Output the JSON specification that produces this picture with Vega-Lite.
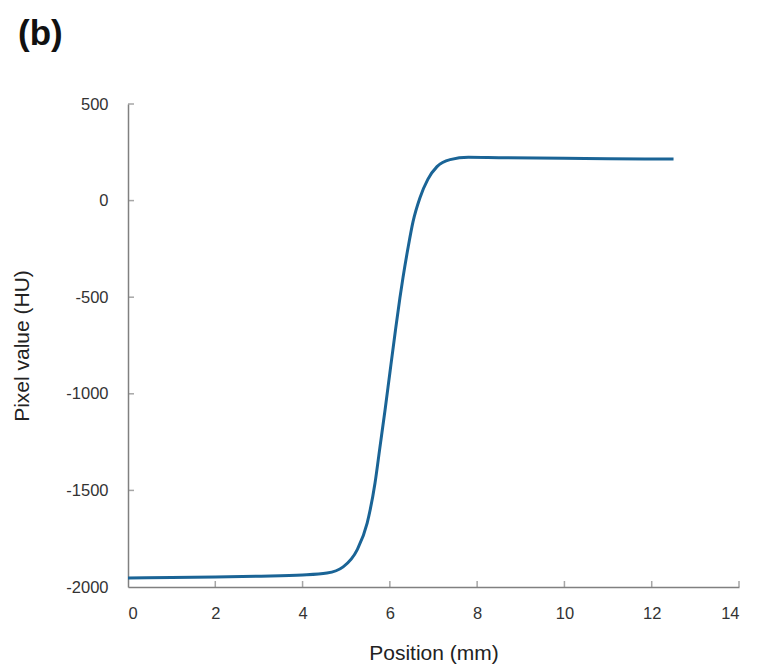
{
  "$schema": "https://vega.github.io/schema/vega-lite/v6.json",
  "width": 611,
  "height": 483,
  "autosize": "none",
  "padding": {"left": 128, "top": 104, "right": 18, "bottom": 80},
  "background": "white",
  "title": {
    "text": "(b)",
    "anchor": "start",
    "frame": "group",
    "font": "Liberation Sans",
    "fontSize": 35,
    "fontWeight": "bold",
    "color": "#111111",
    "dx": -110,
    "offset": 44
  },
  "config": {
    "view": {"stroke": null},
    "font": "Liberation Sans",
    "axis": {
      "grid": false,
      "domainColor": "#808080",
      "domainWidth": 1.5,
      "ticks": false,
      "labelFont": "Liberation Sans",
      "labelFontSize": 16.5,
      "labelColor": "#333333",
      "titleFont": "Liberation Sans",
      "titleFontSize": 21,
      "titleFontWeight": "normal",
      "titleColor": "#222222"
    }
  },
  "datasets": {
    "curve": [
      {"x": 0, "y": -1953},
      {"x": 1, "y": -1951},
      {"x": 2, "y": -1948},
      {"x": 3, "y": -1944},
      {"x": 4, "y": -1938},
      {"x": 4.56, "y": -1928},
      {"x": 4.93, "y": -1896},
      {"x": 5.25, "y": -1808},
      {"x": 5.48, "y": -1669},
      {"x": 5.66, "y": -1462},
      {"x": 5.77, "y": -1281},
      {"x": 5.89, "y": -1084},
      {"x": 6.0, "y": -892},
      {"x": 6.12, "y": -685},
      {"x": 6.23, "y": -504},
      {"x": 6.3, "y": -400},
      {"x": 6.42, "y": -240},
      {"x": 6.53, "y": -110},
      {"x": 6.69, "y": 15},
      {"x": 6.87, "y": 110},
      {"x": 7.08, "y": 176},
      {"x": 7.38, "y": 212},
      {"x": 7.8, "y": 224},
      {"x": 8.5, "y": 222},
      {"x": 10, "y": 219},
      {"x": 11, "y": 217},
      {"x": 12.5, "y": 215}
    ],
    "xticks": [{"v": 2}, {"v": 4}, {"v": 6}, {"v": 8}, {"v": 10}, {"v": 12}, {"v": 14}],
    "yticks": [{"v": -1500}, {"v": -1000}, {"v": -500}, {"v": 0}, {"v": 500}]
  },
  "layer": [
    {
      "data": {"name": "xticks"},
      "mark": {"type": "tick", "orient": "vertical", "size": 6, "thickness": 1.5, "yOffset": -3, "color": "#808080"},
      "encoding": {
        "x": {"field": "v", "type": "quantitative"},
        "y": {"datum": -2000, "type": "quantitative"}
      }
    },
    {
      "data": {"name": "yticks"},
      "mark": {"type": "tick", "orient": "horizontal", "size": 6, "thickness": 1.5, "xOffset": 3, "color": "#808080"},
      "encoding": {
        "y": {"field": "v", "type": "quantitative"},
        "x": {"datum": 0, "type": "quantitative"}
      }
    },
    {
      "data": {"name": "curve"},
      "mark": {"type": "line", "interpolate": "monotone", "color": "#1a6496", "strokeWidth": 3},
      "encoding": {
        "x": {
          "field": "x",
          "type": "quantitative",
          "scale": {"domain": [0, 14], "nice": false},
          "axis": {
            "values": [0, 2, 4, 6, 8, 10, 12, 14],
            "labelPadding": 18,
            "labelExpr": "datum.value + ''",
            "title": "Position (mm)",
            "titlePadding": 21
          }
        },
        "y": {
          "field": "y",
          "type": "quantitative",
          "scale": {"domain": [-2000, 500], "nice": false},
          "axis": {
            "values": [-2000, -1500, -1000, -500, 0, 500],
            "labelPadding": 20,
            "labelExpr": "datum.value + ''",
            "title": "Pixel value (HU)",
            "titlePadding": 33
          }
        }
      }
    }
  ]
}
